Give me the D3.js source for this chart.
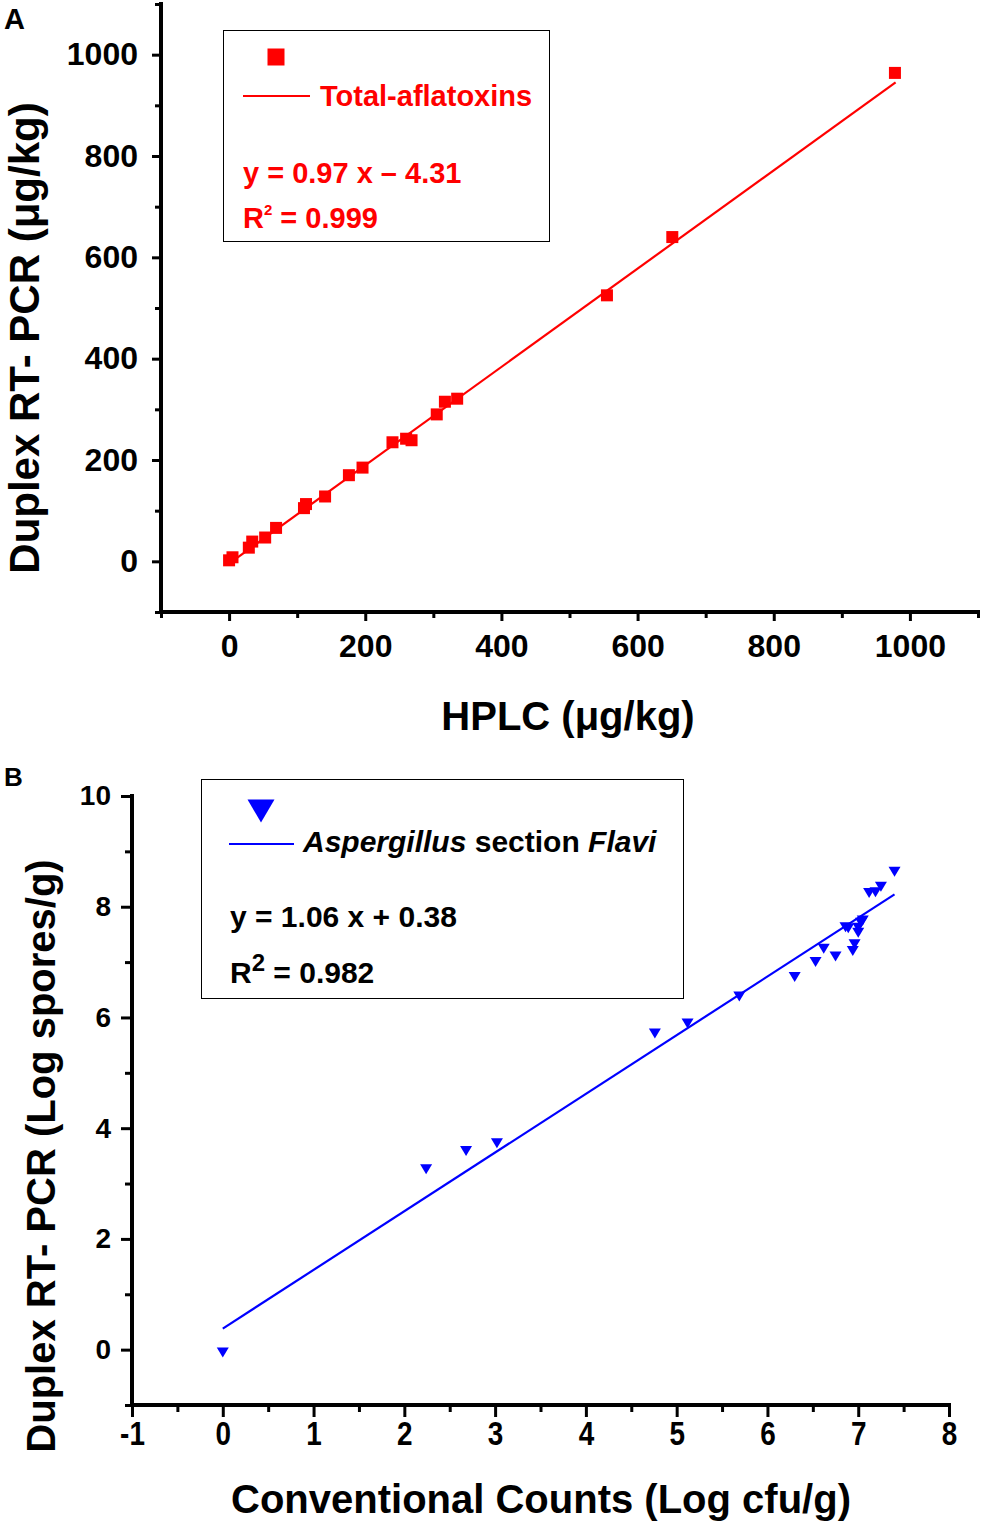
<!DOCTYPE html>
<html>
<head>
<meta charset="utf-8">
<script src="https://cdn.jsdelivr.net/npm/d3@7/dist/d3.min.js"></script>
<style>
  html, body { margin: 0; padding: 0; background: #fff; }
  svg { display: block; font-family: "Liberation Sans", Arial, sans-serif; }
  .tick line { stroke: #000; stroke-width: 3; }
  .tick text { fill: #000; font-weight: bold; font-family: "Liberation Sans", Arial, sans-serif; }
</style>
</head>
<body>
<script>
// ---------- DATA ----------
// Panel A: Total aflatoxins, HPLC (x) vs Duplex RT-PCR (y), µg/kg
const aflaHPLC = [0, 5, 29, 34, 53, 69, 110, 113, 141, 176, 196, 240, 260, 268, 305, 317, 335, 555, 651, 978];
const aflaPCR  = [2, 8, 27, 39, 47, 66, 105, 113, 128, 170, 185, 235, 242, 239, 290, 315, 321, 525, 640, 964];
const aflaFit  = [0.97, -4.31];      // slope, intercept
const aflaFitRange = [0, 979];
const aflaTicksMajor = [0, 200, 400, 600, 800, 1000];
const aflaTicksMinor = [-100, 100, 300, 500, 700, 900, 1100];

// Panel B: Aspergillus section Flavi, conventional counts (x) vs Duplex RT-PCR (y)
const flaviCounts = [0, 2.24, 2.68, 3.02, 4.76, 5.12, 5.69, 6.30, 6.53, 6.62, 6.75, 6.86, 6.89, 6.94, 6.96, 7.00, 7.00, 7.03, 7.05, 7.12, 7.19, 7.25, 7.40];
const flaviPCR    = [-0.05, 3.26, 3.59, 3.73, 5.71, 5.89, 6.38, 6.73, 7.00, 7.24, 7.10, 7.63, 7.61, 7.20, 7.32, 7.53, 7.62, 7.71, 7.75, 8.25, 8.26, 8.36, 8.63];
const flaviFit = [1.06, 0.38];
const flaviFitRange = [0, 7.4];
const flaviXMajor = [-1, 0, 1, 2, 3, 4, 5, 6, 7, 8];
const flaviXMinor = [-0.5, 0.5, 1.5, 2.5, 3.5, 4.5, 5.5, 6.5, 7.5];
const flaviYMajor = [0, 2, 4, 6, 8, 10];
const flaviYMinor = [-1, 1, 3, 5, 7, 9];

const RED = "#ff0000", BLUE = "#0000ff";
const FONT = "'Liberation Sans', Arial, sans-serif";
const fmt = d => String(d);

const svg = d3.select("body").append("svg").attr("width", 984).attr("height", 1524);

function axisLines(xs, ys) {
  const [x0, x1] = xs.range(), [y0, y1] = ys.range();
  svg.append("line").attr("x1", x0).attr("x2", x1).attr("y1", y0).attr("y2", y0)
    .attr("stroke", "#000").attr("stroke-width", 4).attr("stroke-linecap", "square");
  svg.append("line").attr("x1", x0).attr("x2", x0).attr("y1", y0).attr("y2", y1)
    .attr("stroke", "#000").attr("stroke-width", 4).attr("stroke-linecap", "square");
}
function clean(g) { g.select(".domain").remove(); g.attr("font-family", FONT); }

// ---------- PANEL A ----------
const xA = d3.scaleLinear().domain([-100, 1100]).range([161, 978]);
const yA = d3.scaleLinear().domain([-100, 1100]).range([612, 4]);

svg.append("g").attr("transform", `translate(0,${yA.range()[0]})`)
  .call(d3.axisBottom(xA).tickValues(aflaTicksMinor).tickSize(6).tickFormat(""))
  .call(clean);
svg.append("g").attr("transform", `translate(${xA.range()[0]},0)`)
  .call(d3.axisLeft(yA).tickValues(aflaTicksMinor).tickSize(6).tickFormat(""))
  .call(clean);
svg.append("g").attr("transform", `translate(0,${yA.range()[0]})`)
  .call(d3.axisBottom(xA).tickValues(aflaTicksMajor).tickSize(9).tickPadding(13).tickFormat(fmt))
  .call(clean)
  .call(g => g.selectAll("text").attr("font-size", 32));
svg.append("g").attr("transform", `translate(${xA.range()[0]},0)`)
  .call(d3.axisLeft(yA).tickValues(aflaTicksMajor).tickSize(9).tickPadding(14).tickFormat(fmt))
  .call(clean)
  .call(g => g.selectAll("text").attr("font-size", 32));
axisLines(xA, yA);

// fit line A
svg.append("path")
  .datum(aflaFitRange.map(x => [x, aflaFit[0] * x + aflaFit[1]]))
  .attr("d", d3.line().x(d => xA(d[0])).y(d => yA(d[1])))
  .attr("stroke", RED).attr("stroke-width", 2.2).attr("fill", "none");

// squares A
const sqA = 12;
svg.append("g").selectAll("rect").data(aflaHPLC.map((x, i) => [x, aflaPCR[i]])).join("rect")
  .attr("x", d => xA(d[0]) - sqA / 2).attr("y", d => yA(d[1]) - sqA / 2)
  .attr("width", sqA).attr("height", sqA).attr("fill", RED);

// titles A
svg.append("text").attr("x", 4).attr("y", 29).attr("font-size", 29).attr("font-weight", "bold").text("A");
svg.append("text").attr("transform", "translate(39,338) rotate(-90)")
  .attr("text-anchor", "middle").attr("font-size", 42).attr("font-weight", "bold")
  .text("Duplex RT- PCR (\u03bcg/kg)");
svg.append("text").attr("x", 568).attr("y", 730)
  .attr("text-anchor", "middle").attr("font-size", 40).attr("font-weight", "bold")
  .text("HPLC (\u03bcg/kg)");

// legend A
svg.append("rect").attr("x", 223.5).attr("y", 30.5).attr("width", 326).attr("height", 211)
  .attr("fill", "#fff").attr("stroke", "#000").attr("stroke-width", 1);
svg.append("rect").attr("x", 276 - 8.5).attr("y", 57 - 8.5).attr("width", 17).attr("height", 17).attr("fill", RED);
svg.append("line").attr("x1", 243).attr("x2", 310).attr("y1", 96).attr("y2", 96)
  .attr("stroke", RED).attr("stroke-width", 2.2);
svg.append("text").attr("x", 320).attr("y", 106).attr("font-size", 29).attr("font-weight", "bold")
  .attr("fill", RED).text("Total-aflatoxins");
svg.append("text").attr("x", 243).attr("y", 183).attr("font-size", 29).attr("font-weight", "bold")
  .attr("fill", RED).text("y = 0.97 x \u2013 4.31");
const r2A = svg.append("text").attr("x", 243).attr("y", 228).attr("font-size", 29).attr("font-weight", "bold").attr("fill", RED);
r2A.append("tspan").text("R");
r2A.append("tspan").attr("font-size", 15).attr("dy", -13).text("2");
r2A.append("tspan").attr("dy", 13).text(" = 0.999");

// ---------- PANEL B ----------
const xB = d3.scaleLinear().domain([-1, 8]).range([132, 949]);
const yB = d3.scaleLinear().domain([-1, 10]).range([1405, 796]);

svg.append("g").attr("transform", `translate(0,${yB.range()[0]})`)
  .call(d3.axisBottom(xB).tickValues(flaviXMinor).tickSize(7).tickFormat(""))
  .call(clean);
svg.append("g").attr("transform", `translate(${xB.range()[0]},0)`)
  .call(d3.axisLeft(yB).tickValues(flaviYMinor).tickSize(7).tickFormat(""))
  .call(clean);
svg.append("g").attr("transform", `translate(0,${yB.range()[0]})`)
  .call(d3.axisBottom(xB).tickValues(flaviXMajor).tickSize(12).tickPadding(4).tickFormat(fmt))
  .call(clean)
  .call(g => g.selectAll("text").attr("font-size", 34).attr("transform", "scale(0.82,1)"));
svg.append("g").attr("transform", `translate(${xB.range()[0]},0)`)
  .call(d3.axisLeft(yB).tickValues(flaviYMajor).tickSize(11).tickPadding(10).tickFormat(fmt))
  .call(clean)
  .call(g => g.selectAll("text").attr("font-size", 28));
axisLines(xB, yB);

svg.append("path")
  .datum(flaviFitRange.map(x => [x, flaviFit[0] * x + flaviFit[1]]))
  .attr("d", d3.line().x(d => xB(d[0])).y(d => yB(d[1])))
  .attr("stroke", BLUE).attr("stroke-width", 2.2).attr("fill", "none");

function triDown(w, h) { return `M${-w/2},${-h/2}L${w/2},${-h/2}L0,${h/2}Z`; }
svg.append("g").selectAll("path").data(flaviCounts.map((x, i) => [x, flaviPCR[i]])).join("path")
  .attr("transform", d => `translate(${xB(d[0])},${yB(d[1])})`)
  .attr("d", triDown(12, 10)).attr("fill", BLUE);

svg.append("text").attr("x", 4).attr("y", 786).attr("font-size", 26).attr("font-weight", "bold").text("B");
svg.append("text").attr("transform", "translate(55,1156) rotate(-90)")
  .attr("text-anchor", "middle").attr("font-size", 40).attr("font-weight", "bold")
  .text("Duplex RT- PCR (Log spores/g)");
svg.append("text").attr("x", 541).attr("y", 1513)
  .attr("text-anchor", "middle").attr("font-size", 40).attr("font-weight", "bold")
  .text("Conventional Counts (Log cfu/g)");

// legend B
svg.append("rect").attr("x", 201.5).attr("y", 779.5).attr("width", 482).attr("height", 219)
  .attr("fill", "#fff").attr("stroke", "#000").attr("stroke-width", 1);
svg.append("path").attr("transform", "translate(261,811)").attr("d", triDown(27, 23)).attr("fill", BLUE);
svg.append("line").attr("x1", 229).attr("x2", 294).attr("y1", 844).attr("y2", 844)
  .attr("stroke", BLUE).attr("stroke-width", 2.2);
const legB = svg.append("text").attr("x", 303).attr("y", 852).attr("font-size", 30).attr("font-weight", "bold");
legB.append("tspan").attr("font-style", "italic").text("Aspergillus");
legB.append("tspan").text(" section ");
legB.append("tspan").attr("font-style", "italic").text("Flavi");
svg.append("text").attr("x", 230).attr("y", 927).attr("font-size", 30).attr("font-weight", "bold")
  .text("y = 1.06 x + 0.38");
const r2B = svg.append("text").attr("x", 230).attr("y", 983).attr("font-size", 30).attr("font-weight", "bold");
r2B.append("tspan").text("R");
r2B.append("tspan").attr("font-size", 24).attr("dy", -12).text("2");
r2B.append("tspan").attr("dy", 12).text(" = 0.982");
</script>
</body>
</html>
